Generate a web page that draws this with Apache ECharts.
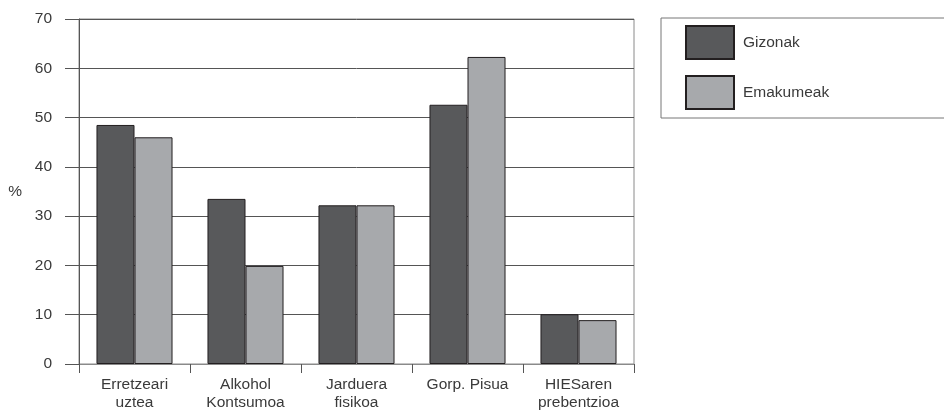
<!DOCTYPE html>
<html>
<head>
<meta charset="utf-8">
<script src="https://cdn.jsdelivr.net/npm/echarts@6/dist/echarts.min.js"></script>
<style>html,body{margin:0;padding:0;background:#fff}#c{width:944px;height:412px}</style>
</head>
<body>
<div id="c"></div>
<script>
const categories = ['Erretzeari\nuztea', 'Alkohol\nKontsumoa', 'Jarduera\nfisikoa', 'Gorp. Pisua', 'HIESaren\nprebentzioa'];
const gizonak = [48.5, 33.5, 32.2, 52.6, 10.1];
const emakumeak = [46.0, 19.9, 32.2, 62.3, 8.9];
const seriesNames = ['Gizonak', 'Emakumeak'];
const yTicks = { min: 0, max: 70, interval: 10 };

const FONT = 'Liberation Sans, Arial, sans-serif';
const TXT = '#3a3a3a';
const FS = 15.5;
const chart = echarts.init(document.getElementById('c'), null, { renderer: 'canvas' });
chart.setOption({
  animation: false,
  textStyle: { fontFamily: FONT },
  grid: { left: 79, right: 310, top: 19, bottom: 48, show: true, borderColor: '#8a8a8a', borderWidth: 1, backgroundColor: 'transparent' },
  legend: {
    left: 661, top: 18,
    orient: 'vertical',
    itemWidth: 48, itemHeight: 33, itemGap: 15,
    padding: [7, 150, 8, 24],
    borderColor: '#777', borderWidth: 1,
    selectedMode: false,
    icon: 'rect',
    textStyle: { fontSize: FS, color: TXT, fontFamily: FONT, padding: [0, 0, 0, 4] },
    data: seriesNames
  },
  xAxis: {
    type: 'category',
    data: categories,
    axisLine: { lineStyle: { color: '#8a8a8a', width: 1 } },
    axisTick: { show: true, alignWithLabel: false, length: 9, lineStyle: { color: '#555' } },
    axisLabel: { fontSize: FS, color: TXT, lineHeight: 18, margin: 12, fontFamily: FONT, interval: 0 }
  },
  yAxis: {
    type: 'value',
    min: yTicks.min, max: yTicks.max, interval: yTicks.interval,
    name: '%',
    nameLocation: 'middle',
    nameRotate: 0,
    nameGap: 57,
    nameTextStyle: { fontSize: FS, color: TXT, fontFamily: FONT },
    axisLine: { show: true, lineStyle: { color: '#555', width: 1 } },
    axisTick: { show: true, inside: false, length: 14, lineStyle: { color: '#555' } },
    axisLabel: { fontSize: FS, color: TXT, margin: 27, fontFamily: FONT },
    splitLine: { show: true, lineStyle: { color: '#555', width: 1 } }
  },
  series: [
    {
      name: seriesNames[0], type: 'bar', data: gizonak,
      barGap: '0%', barCategoryGap: '31.5%',
      itemStyle: { color: '#58595b', borderColor: '#231f20', borderWidth: 1 }
    },
    {
      name: seriesNames[1], type: 'bar', data: emakumeak,
      barGap: '0%', barCategoryGap: '31.5%',
      itemStyle: { color: '#a7a9ac', borderColor: '#231f20', borderWidth: 1 }
    }
  ]
});
</script>
</body>
</html>
